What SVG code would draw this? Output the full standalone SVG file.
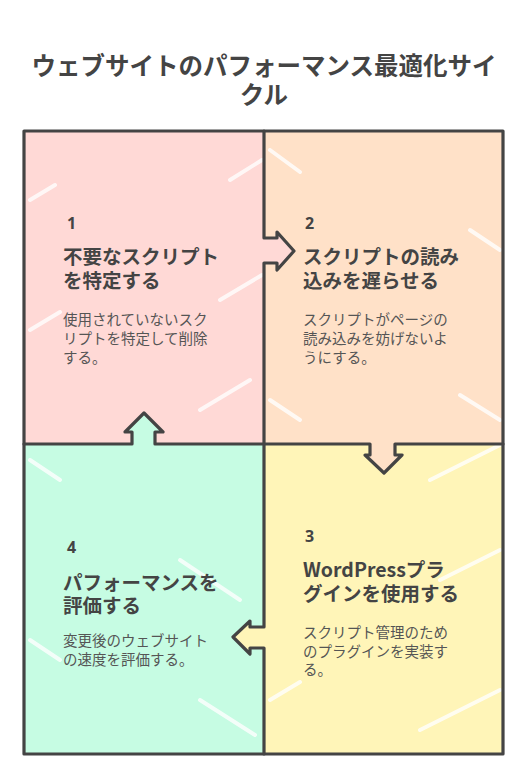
<svg xmlns="http://www.w3.org/2000/svg" width="528" height="768" viewBox="0 0 528 768">
<style>
.title{font-family:"Noto Sans CJK JP","Noto Sans",sans-serif;font-weight:700;font-size:24.5px;fill:#444;text-anchor:middle}
.num{font-family:"Noto Sans","Noto Sans CJK JP",sans-serif;font-weight:700;font-size:16px;fill:#444}
.head{font-family:"Noto Sans CJK JP","Noto Sans",sans-serif;font-weight:700;font-size:19.5px;fill:#444}
.desc{font-family:"Noto Sans CJK JP","Noto Sans",sans-serif;font-weight:400;font-size:14.5px;fill:#555}
.ln{fill:none;stroke:#444;stroke-width:3.2;stroke-linecap:round;stroke-linejoin:round}
.hatch{stroke:#fff;stroke-width:4;stroke-linecap:round;opacity:0.8}
</style>
<rect width="528" height="768" fill="#fff"/>
<g id="title">
<text class="title" x="264" y="75">ウェブサイトのパフォーマンス最適化サイ<tspan x="264" dy="29">クル</tspan></text>
</g>
<g id="node1">
<rect x="24" y="131" width="240" height="313" fill="#FFD9D6"/>
<g class="hatch"><line x1="30" y1="200" x2="55" y2="185"/><line x1="30" y1="330" x2="60" y2="312"/><line x1="230" y1="180" x2="262" y2="160"/><line x1="220" y1="300" x2="262" y2="275"/><line x1="200" y1="410" x2="250" y2="380"/></g>
<text class="num" x="67" y="229">1</text>
<text class="head" x="63" y="264">不要なスクリプト<tspan x="63" dy="24">を特定する</tspan></text>
<text class="desc" x="63" y="325">使用されていないスク<tspan x="63" dy="19">リプトを特定して削除</tspan><tspan x="63" dy="19">する。</tspan></text>
</g>
<g id="node2">
<rect x="264" y="131" width="239" height="313" fill="#FFE1C8"/>
<g class="hatch"><line x1="270" y1="150" x2="300" y2="172"/><line x1="470" y1="230" x2="500" y2="250"/><line x1="270" y1="400" x2="300" y2="420"/><line x1="460" y1="395" x2="500" y2="420"/></g>
<text class="num" x="305" y="229">2</text>
<text class="head" x="303" y="264">スクリプトの読み<tspan x="303" dy="24">込みを遅らせる</tspan></text>
<text class="desc" x="303" y="325">スクリプトがページの<tspan x="303" dy="19">読み込みを妨げないよ</tspan><tspan x="303" dy="19">うにする。</tspan></text>
</g>
<g id="node3">
<rect x="264" y="444" width="239" height="310" fill="#FFF5B8"/>
<g class="hatch"><line x1="430" y1="480" x2="500" y2="445"/><line x1="440" y1="580" x2="500" y2="550"/><line x1="270" y1="700" x2="300" y2="682"/><line x1="420" y1="730" x2="500" y2="690"/></g>
<text class="num" x="305" y="542">3</text>
<text class="head" x="303" y="577">WordPressプラ<tspan x="303" dy="24">グインを使用する</tspan></text>
<text class="desc" x="303" y="638">スクリプト管理のため<tspan x="303" dy="19">のプラグインを実装す</tspan><tspan x="303" dy="18">る。</tspan></text>
</g>
<g id="node4">
<rect x="24" y="444" width="240" height="310" fill="#C6FCE3"/>
<g class="hatch"><line x1="30" y1="460" x2="60" y2="480"/><line x1="180" y1="560" x2="240" y2="600"/><line x1="30" y1="640" x2="60" y2="660"/><line x1="200" y1="700" x2="255" y2="735"/></g>
<text class="num" x="67" y="553">4</text>
<text class="head" x="63" y="590">パフォーマンスを<tspan x="63" dy="23">評価する</tspan></text>
<text class="desc" x="63" y="646">変更後のウェブサイト<tspan x="63" dy="19">の速度を評価する。</tspan></text>
</g>
<g id="connectors">
<polygon points="262,238 277,238 277,232 294,251 277,270 277,263 262,263" fill="#FFD9D6"/>
<polygon points="370,442 370,455 365,455 384,473 402,455 395,455 395,442" fill="#FFE1C8"/>
<polygon points="266,627 250,627 250,621 233,637 250,654 250,648 266,648" fill="#FFF5B8"/>
<polygon points="132,446 132,432 125,432 144,413 163,432 155,432 155,446" fill="#C6FCE3"/>
<rect class="ln" x="24" y="131" width="479" height="623"/>
<polyline class="ln" points="264,131 264,238 277,238 277,232 294,251 277,270 277,263 264,263 264,627 250,627 250,621 233,637 250,654 250,648 264,648 264,754"/>
<polyline class="ln" points="24,444 132,444 132,432 125,432 144,413 163,432 155,432 155,444 370,444 370,455 365,455 384,473 402,455 395,455 395,444 503,444"/>
</g>
</svg>
